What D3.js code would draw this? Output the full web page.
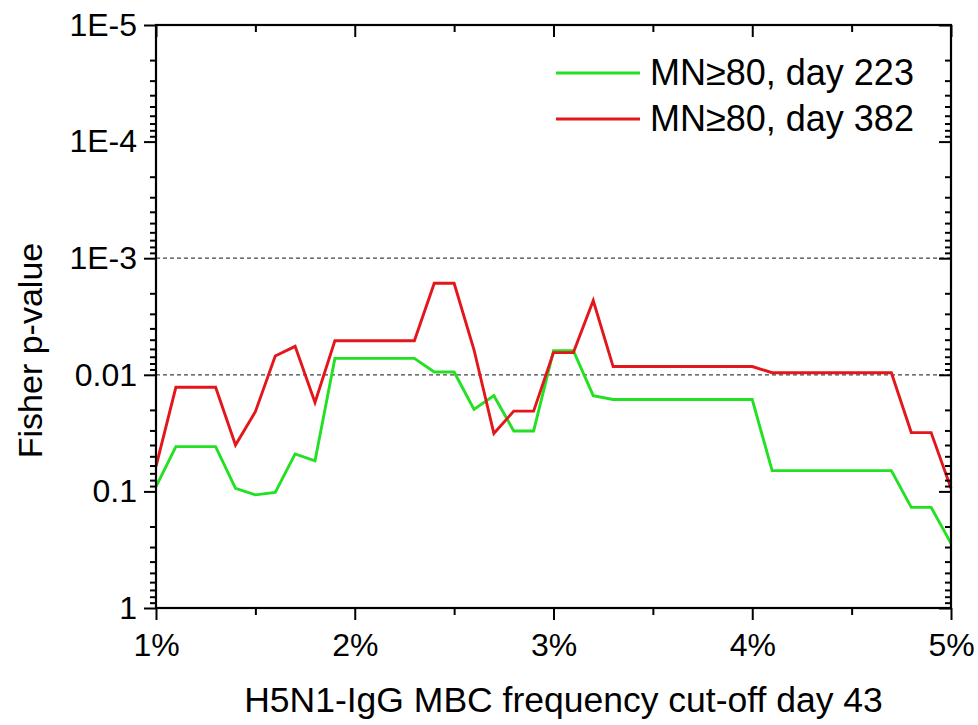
<!DOCTYPE html>
<html>
<head>
<meta charset="utf-8">
<script src="https://cdn.jsdelivr.net/npm/d3@7"></script>
<style>
  html, body { margin: 0; padding: 0; background: #ffffff; }
  svg { display: block; font-family: "Liberation Sans", Arial, sans-serif; }
</style>
</head>
<body>
<svg id="chart" width="978" height="725"></svg>
<script>
// ---- data ----
const cutoffs = [1.0, 1.1, 1.2, 1.3, 1.4, 1.5, 1.6, 1.7, 1.8, 1.9,
                 2.0, 2.1, 2.2, 2.3, 2.4, 2.5, 2.6, 2.7, 2.8, 2.9,
                 3.0, 3.1, 3.2, 3.3, 3.4, 3.5, 3.6, 3.7, 3.8, 3.9,
                 4.0, 4.1, 4.2, 4.3, 4.4, 4.5, 4.6, 4.7, 4.8, 4.9, 5.0];
const day223 = [0.091, 0.0413, 0.0413, 0.0413, 0.094, 0.107, 0.102, 0.0477, 0.0548, 0.00723,
                0.00723, 0.00723, 0.00723, 0.00723, 0.00946, 0.00946, 0.0198, 0.0151, 0.0303, 0.0303,
                0.0062, 0.0062, 0.0151, 0.0163, 0.0163, 0.0163, 0.0163, 0.0163, 0.0163, 0.0163,
                0.0163, 0.0664, 0.0664, 0.0664, 0.0664, 0.0664, 0.0664, 0.0664, 0.137, 0.137, 0.279];
const day382 = [0.061, 0.0128, 0.0128, 0.0128, 0.040, 0.0207, 0.0069, 0.0057, 0.0173, 0.0051,
                0.0051, 0.0051, 0.0051, 0.0051, 0.00164, 0.00164, 0.0061, 0.0318, 0.0205, 0.0205,
                0.00645, 0.00645, 0.00231, 0.0085, 0.0085, 0.0085, 0.0085, 0.0085, 0.0085, 0.0085,
                0.0085, 0.0096, 0.0096, 0.0096, 0.0096, 0.0096, 0.0096, 0.0096, 0.0313, 0.0313, 0.094];
const seriesNames = ["MN\u226580, day 223", "MN\u226580, day 382"];
const seriesColors = ["#22e022", "#e3161b"];
const xTickValues = [1, 2, 3, 4, 5];
const xTickLabels = ["1%", "2%", "3%", "4%", "5%"];
const xMinorValues = [1.5, 2.5, 3.5, 4.5];
const yTickValues = [1, 0.1, 0.01, 1e-3, 1e-4, 1e-5];
const yTickLabels = ["1", "0.1", "0.01", "1E-3", "1E-4", "1E-5"];
const refLines = [1e-3, 0.01];
const xTitle = "H5N1-IgG MBC frequency cut-off day 43";
const yTitle = "Fisher p-value";

// ---- layout ----
const L = 156, R = 951, T = 25, B = 608;
const svg = d3.select("#chart");

const x = d3.scaleLinear().domain([1, 5]).range([L, R]);
const y = d3.scaleLog().domain([1, 1e-5]).range([B, T]);
const yMinor = y.ticks().filter(v => !yTickValues.some(t => Math.abs(Math.log10(t) - Math.log10(v)) < 1e-6));

// reference dashed lines
svg.append("g").selectAll("line").data(refLines).join("line")
  .attr("x1", L).attr("x2", R)
  .attr("y1", d => y(d)).attr("y2", d => y(d))
  .attr("stroke", "#444").attr("stroke-width", 1.3)
  .attr("stroke-dasharray", "4,3");

// series lines
const line = d3.line().x((d, i) => x(cutoffs[i])).y(d => y(d));
[day223, day382].forEach((s, k) => {
  svg.append("path").datum(s)
    .attr("d", line)
    .attr("fill", "none")
    .attr("stroke", seriesColors[k])
    .attr("stroke-width", 2.9)
    .attr("stroke-linejoin", "miter");
});

// axes
function styleAxis(g) {
  g.select(".domain").remove();
  g.selectAll(".tick line").attr("stroke", "#000").attr("stroke-width", 2);
  g.selectAll(".tick text").attr("fill", "#000");
}
// bottom (outward)
svg.append("g").attr("transform", `translate(0,${B})`)
  .call(d3.axisBottom(x).tickValues(xTickValues).tickSize(12).tickPadding(13)
        .tickFormat((d, i) => xTickLabels[i]))
  .call(styleAxis)
  .call(g => g.selectAll(".tick text").attr("font-size", 32));
svg.append("g").attr("transform", `translate(0,${B})`)
  .call(d3.axisBottom(x).tickValues(xMinorValues).tickSize(7).tickFormat(""))
  .call(styleAxis);
// top (inward)
svg.append("g").attr("transform", `translate(0,${T})`)
  .call(d3.axisTop(x).tickValues(xTickValues).tickSize(-12).tickFormat(""))
  .call(styleAxis);
svg.append("g").attr("transform", `translate(0,${T})`)
  .call(d3.axisTop(x).tickValues(xMinorValues).tickSize(-7).tickFormat(""))
  .call(styleAxis);
// left (outward)
svg.append("g").attr("transform", `translate(${L},0)`)
  .call(d3.axisLeft(y).tickValues(yTickValues).tickSize(12).tickPadding(7)
        .tickFormat((d, i) => yTickLabels[i]))
  .call(styleAxis)
  .call(g => g.selectAll(".tick text").attr("font-size", 32));
svg.append("g").attr("transform", `translate(${L},0)`)
  .call(d3.axisLeft(y).tickValues(yMinor).tickSize(6).tickFormat(""))
  .call(styleAxis);
// right (inward)
svg.append("g").attr("transform", `translate(${R},0)`)
  .call(d3.axisRight(y).tickValues(yTickValues).tickSize(-12).tickFormat(""))
  .call(styleAxis);
svg.append("g").attr("transform", `translate(${R},0)`)
  .call(d3.axisRight(y).tickValues(yMinor).tickSize(-6).tickFormat(""))
  .call(styleAxis);

// frame
svg.append("rect")
  .attr("x", L).attr("y", T).attr("width", R - L).attr("height", B - T)
  .attr("fill", "none").attr("stroke", "#000").attr("stroke-width", 2.2);

// axis titles
svg.append("text")
  .attr("x", (L + R) / 2 + 10).attr("y", 712)
  .attr("text-anchor", "middle").attr("font-size", 35.5).attr("fill", "#000")
  .text(xTitle);
svg.append("text")
  .attr("transform", `translate(42,${(T + B) / 2 + 34}) rotate(-90)`)
  .attr("text-anchor", "middle").attr("font-size", 34).attr("fill", "#000")
  .text(yTitle);

// legend
const legend = svg.append("g");
seriesNames.forEach((name, k) => {
  const ly = 73 + k * 46;
  legend.append("line")
    .attr("x1", 556).attr("x2", 640).attr("y1", ly).attr("y2", ly)
    .attr("stroke", seriesColors[k]).attr("stroke-width", 2.9);
  legend.append("text")
    .attr("x", 650).attr("y", ly + 12)
    .attr("font-size", 36).attr("fill", "#000")
    .text(name);
});
</script>
</body>
</html>
